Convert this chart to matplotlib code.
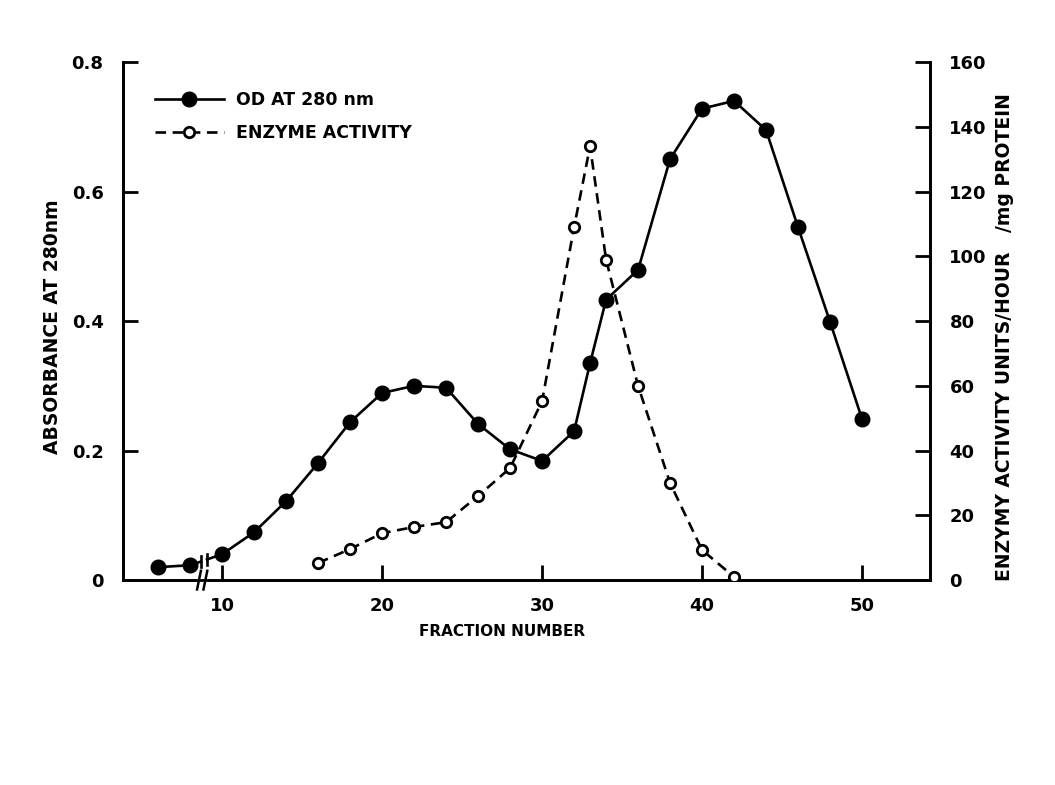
import matplotlib.pyplot as plt
from matplotlib.lines import Line2D

# fraction numbers and readings taken off the scanned figure
od_fractions = [6, 8, 10, 12, 14, 16, 18, 20, 22, 24, 26, 28, 30, 32, 33, 34, 36, 38, 40, 42, 44, 46, 48, 50]
od_280 = [0.020, 0.023, 0.040, 0.074, 0.122, 0.181, 0.244, 0.289, 0.300, 0.297, 0.241, 0.202,
          0.184, 0.230, 0.335, 0.433, 0.479, 0.650, 0.728, 0.740, 0.695, 0.545, 0.399, 0.249]

enz_fractions = [16, 18, 20, 22, 24, 26, 28, 30, 32, 33, 34, 36, 38, 40, 42]
enz_activity = [5.3, 9.6, 14.5, 16.4, 17.9, 26, 34.6, 55.3, 109, 134, 99, 60, 30, 9.3, 1]

x_ticks = [10, 20, 30, 40, 50]
od_ticks = [0, 0.2, 0.4, 0.6, 0.8]
od_tick_labels = ["0", "0.2", "0.4", "0.6", "0.8"]
enz_ticks = [0, 20, 40, 60, 80, 100, 120, 140, 160]

plt.rcParams['font.family'] = ['DejaVu Sans']
plt.rcParams['font.weight'] = 'bold'
plt.rcParams['axes.labelweight'] = 'bold'

fig = plt.figure(figsize=(10.55, 7.85), dpi=100)
ax = fig.add_axes([0.1166, 0.261, 0.7649, 0.66])
ax2 = ax.twinx()

lw = 1.9
# OD curve: broken between fraction 8 and 10 (axis break)
n_pre = 2
ax.plot(od_fractions[:n_pre], od_280[:n_pre], 'k-', lw=lw, marker='o', ms=10.5, zorder=3)
ax.plot(od_fractions[n_pre:], od_280[n_pre:], 'k-', lw=lw, marker='o', ms=10.5, zorder=3)

# short stubs across the break with the bar marks
x0, x1 = od_fractions[n_pre - 1], od_fractions[n_pre]
y0, y1 = od_280[n_pre - 1], od_280[n_pre]
b0, b1 = 8.65, 9.05
yb0 = y0 + (y1 - y0) * (b0 - x0) / (x1 - x0)
yb1 = y0 + (y1 - y0) * (b1 - x0) / (x1 - x0)
ax.plot([x0, b0], [y0, yb0], 'k-', lw=lw)
ax.plot([b1, x1], [yb1, y1], 'k-', lw=lw)
ax.plot([b0, b0], [yb0 - 0.009, yb0 + 0.009], 'k-', lw=lw)
ax.plot([b1, b1], [yb1 - 0.009, yb1 + 0.009], 'k-', lw=lw)

# enzyme activity on the right axis
ax2.plot(enz_fractions, enz_activity, color='k', ls=(0, (4, 2.5)), lw=lw,
         marker='o', ms=7.5, mfc='white', mec='k', mew=2, zorder=3)

ax.set_xlim(3.8, 54.25)
ax.set_ylim(0, 0.8)
ax2.set_ylim(0, 160)

for a in (ax, ax2):
    a.spines['top'].set_visible(False)
    for s in a.spines.values():
        s.set_linewidth(2)

ax.set_xticks(x_ticks)
ax.set_yticks(od_ticks)
ax.set_yticklabels(od_tick_labels)
ax2.set_yticks(enz_ticks)

ax.tick_params(axis='x', direction='in', length=11, width=2, pad=12, labelsize=13)
ax.tick_params(axis='y', direction='in', length=11, width=2, pad=14, labelsize=13)
ax2.tick_params(axis='y', direction='in', length=11, width=2, pad=14, labelsize=13)

# axis break on the bottom spine
trans = ax.get_xaxis_transform()
ax.plot([8.55, 8.95], [0, 0], color='white', lw=4, transform=trans, clip_on=False, zorder=5)
for bx in (8.55, 8.95):
    ax.plot([bx - 0.12, bx + 0.12], [-0.018, 0.018], 'k-', lw=1.8, transform=trans,
            clip_on=False, zorder=6)

ax.set_xlabel("FRACTION NUMBER", fontsize=11)
ax.xaxis.set_label_coords(0.47, -0.085)
ax.set_ylabel("ABSORBANCE AT 280nm", fontsize=13.5)
ax.yaxis.set_label_coords(-0.076, 0.49)
ax2.set_ylabel("ENZYMY ACTIVITY UNITS/HOUR   /mg PROTEIN", fontsize=13.5)
ax2.yaxis.set_label_coords(1.08, 0.47)

handles = [
    Line2D([], [], color='k', lw=lw, marker='o', ms=10.5),
    Line2D([], [], color='k', lw=lw, ls=(0, (4, 2.5)), marker='o', ms=7.5,
           mfc='white', mec='k', mew=2),
]
ax.legend(handles, ["OD AT 280 nm", "ENZYME ACTIVITY"], loc='upper left',
          bbox_to_anchor=(0.02, 0.975), frameon=False, fontsize=12.5,
          handlelength=4.0, handletextpad=0.7, labelspacing=0.9)

fig.savefig("out.png", dpi=100)
